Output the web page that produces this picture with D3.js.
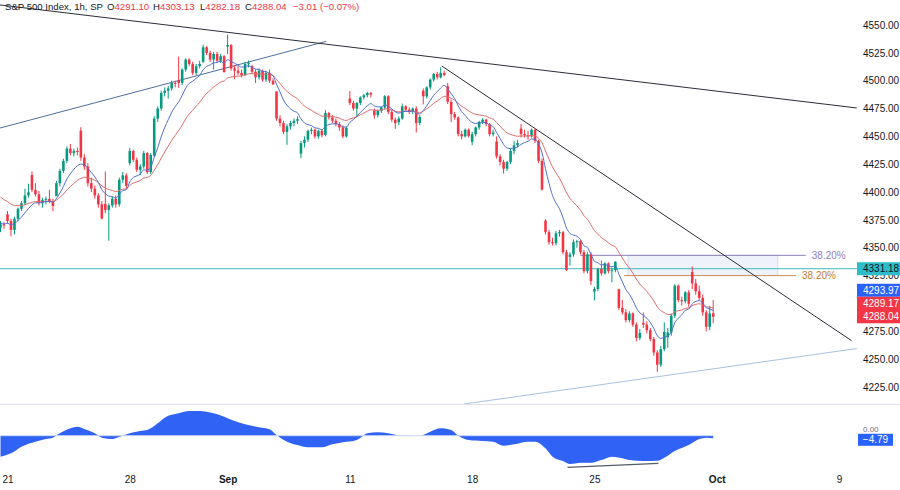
<!DOCTYPE html>
<html><head><meta charset="utf-8">
<script src="https://cdn.jsdelivr.net/npm/d3@7/dist/d3.min.js"></script>
<style>
body{margin:0;background:#ffffff;}
svg{display:block;font-family:"Liberation Sans",Arial,sans-serif;}
</style>
</head><body>
<svg id="chart" width="900" height="490"></svg>
<script>
// ---------------- DATA ----------------
const title = "S&P 500 Index, 1h, SP";
const ohlcHeader = [["O","4291.10"],["H","4303.13"],["L","4282.18"],["C","4288.04"]];
const changeText = "\u22123.01 (\u22120.07%)";

const firstIndex = -2; // first bar sits two bars before Aug 21 open
// [open, high, low, close] per 1h bar
const candles = [
[4368,4374,4364,4371],[4371,4373,4367,4370],
[4380,4383,4372,4374],[4374,4376,4360.3,4366],[4366,4378,4362,4376],[4376,4386,4374,4385],[4385,4392,4383,4390],[4390,4403,4388,4397],[4397,4407.5,4395,4399.8],
[4415.3,4418.6,4400,4402],[4402,4408,4396,4398],[4398,4401,4388,4390],[4390,4395,4386,4393],[4393,4396,4389,4394],[4394,4402,4390,4392],[4392,4394,4382.8,4387.5],
[4396.4,4410,4396.4,4408],[4408,4421,4405,4419],[4419,4430,4417,4428],[4428,4441,4426,4439],[4439,4443.2,4433,4435],[4435,4439,4432,4437],[4437,4440,4433,4436],
[4455.2,4458.3,4428,4431],[4431,4434,4420,4423],[4423,4426,4405,4408],[4408,4413,4400,4403],[4403,4406,4394,4397],[4397,4399,4386,4389],[4389,4392,4375.5,4376.3],
[4389.4,4418.5,4381,4384],[4384,4390,4356.3,4388],[4388,4396,4386,4394],[4394,4397,4386,4389],[4389,4413,4387,4411],[4411,4418,4408,4415],[4415,4417,4403,4405.7],
[4426,4439.6,4424,4437],[4437,4438,4427,4429],[4429,4431,4418,4420],[4420,4425,4415,4423],[4423,4437,4421,4435],[4435,4436,4416,4418],[4418,4435,4416,4433.3],
[4432.75,4468,4431.7,4466],[4466,4477,4463,4475],[4475,4491,4473,4489],[4489,4494,4486,4491],[4491,4495,4484,4493],[4493,4500.1,4491,4498],[4498,4500,4494,4497.6],
[4500.3,4521.65,4493.6,4498],[4498,4511,4496,4510],[4510,4520,4508,4519],[4519,4520,4513,4515],[4515,4517,4505,4507],[4507,4515,4505,4513],[4513,4518,4511,4514.9],
[4517,4532.3,4516,4530],[4530,4531,4523,4525],[4525,4527,4517,4519],[4519,4526,4510,4524],[4524,4526,4516,4518],[4518,4524,4516,4522],[4522,4523,4507.4,4507.7],
[4530.6,4541.25,4524,4532],[4532,4533,4509,4511],[4511,4514,4501.35,4509],[4509,4513,4505,4507],[4507,4510,4503,4505],[4505,4517,4504,4515],[4515,4518,4512,4515.8],
[4513,4514.3,4506,4508],[4508,4510,4498,4503],[4503,4511,4501,4509],[4509,4510,4499,4501],[4501,4509,4499,4507],[4507,4510,4498,4500],[4500,4502,4496,4496.8],
[4490.35,4490.35,4464,4466],[4466,4469,4459,4462],[4462,4464,4452,4454],[4454,4461,4442.4,4459],[4459,4464,4456,4462],[4462,4466,4459,4464],[4464,4468,4461,4465.5],
[4434.55,4446,4430.5,4444],[4444,4450,4440,4447],[4447,4456,4445,4455],[4455,4457.8,4452,4456],[4456,4457,4448,4450],[4450,4456,4448,4455],[4455,4456,4449,4451.1],
[4451.3,4473.5,4450,4471],[4471,4472,4465,4467],[4467,4469,4462,4464],[4464,4466,4459,4461],[4461,4463,4455,4458],[4458,4460,4448.4,4450],[4450,4459,4449,4457.5],
[4484,4490.8,4478,4480],[4480,4482,4473,4475],[4475,4481,4467.9,4480],[4480,4486,4478,4485],[4485,4488,4483,4487],[4487,4490,4485,4489],[4489,4490,4485,4487.5],
[4473.3,4475,4466,4469],[4469,4474,4467,4473],[4473,4477,4471,4476],[4476,4487.1,4474,4486],[4486,4487,4470,4472],[4472,4474,4463,4465],[4465,4467,4456.8,4461.9],
[4462.65,4468,4460,4466],[4466,4479.4,4465,4477],[4477,4478,4472,4474],[4474,4476,4470,4472],[4472,4476,4470,4475],[4475,4477,4453.5,4462],[4462,4469,4460,4467.4],
[4491,4493,4478.7,4486],[4486,4495,4484,4494],[4494,4502,4492,4501],[4501,4507,4499,4506],[4506,4508,4501,4503],[4503,4512,4502,4507],[4507,4509,4504,4505.1],
[4495,4498,4479,4481],[4481,4483,4463,4470],[4470,4472,4465,4467],[4467,4468,4450,4452],[4452,4455,4447.2,4450],[4450,4457,4449,4456],[4456,4457,4449,4450.3],
[4445.1,4454,4442.1,4452],[4452,4459,4450,4458],[4458,4464,4456,4463],[4463,4466.4,4461,4465],[4465,4466,4459,4461],[4461,4462,4450,4452],[4452,4456,4450,4453.5],
[4445.4,4449.9,4430,4432],[4432,4434,4424,4427],[4427,4429,4416.6,4421],[4421,4428,4419,4427],[4427,4439,4425,4437],[4437,4446,4434,4442],[4442,4447,4440,4444],
[4457,4461,4449,4452],[4452,4456,4449,4451],[4451,4455,4447,4450],[4450,4457,4449,4456],[4456,4457,4444,4446],[4446,4447,4426,4428],[4428,4430,4401.4,4402.2],
[4374.4,4375.7,4362,4364],[4364,4366,4353,4355],[4355,4359,4352,4354],[4354,4365,4352,4363],[4363,4366,4360,4364],[4364,4365,4344,4346],[4346,4348,4329.2,4330],
[4341.7,4346,4334,4344],[4344,4357.4,4342,4355],[4355,4357,4350,4356],[4356,4357,4344,4346],[4346,4348,4327,4329],[4329,4346,4327,4344],[4344,4346,4316.5,4320.1],
[4310.6,4315,4302.7,4313],[4313,4332,4311,4331],[4331,4338.5,4325,4327],[4327,4337,4326,4336],[4336,4337,4327,4329],[4329,4332,4319,4330],[4330,4338,4328,4337.4],
[4312.9,4313,4294,4296],[4296,4303,4290,4292],[4292,4295,4283,4285],[4285,4293,4283,4291],[4291,4292,4279,4281],[4281,4283,4266,4269],[4269,4277,4267,4273.5],
[4282.6,4292,4278,4281],[4281,4284,4273,4276],[4276,4278,4266,4268],[4268,4270,4253,4256],[4256,4258,4238.6,4245],[4245,4262,4243,4259],[4259,4283,4257,4274.5],
[4269.65,4278,4260.2,4274],[4274,4291,4271,4289],[4289,4317.3,4287,4316],[4316,4317,4301,4303],[4303,4306,4298,4302],[4302,4311,4300,4310],[4310,4312,4297,4299.7],
[4328.2,4333.15,4313,4318],[4318,4322,4308,4311],[4311,4316,4303,4305],[4305,4308,4289,4292],[4292,4294,4274.9,4279],[4279,4298,4276,4291],[4291.10,4303.13,4282.18,4288.04]
];

// moving averages (EMA lengths) and their starting values read at the left edge
const fastLen = 9, slowLen = 21;
const fastStart = 4372, slowStart = 4398;

// x-axis labels (bar index of the first bar of each labelled day)
const dateLabels = ["21","28","Sep","11","18","25","Oct","9"];
const dateIdx    = [0, 35, 63, 98, 133, 168, 203, 238];
const boldDates  = ["Sep","Oct"];

// price axis ticks
const priceTicks = [4225,4250,4275,4300,4325,4350,4375,4400,4425,4450,4475,4500,4525,4550];

// drawings (bar index, price)
const trendBlack1 = [[-2.15, 4568], [243.1, 4475.5]];
const trendBlue   = [[-2.15, 4457.5], [91.2, 4535.3]];
const trendBlack2 = [[124.3, 4513.2], [241.6, 4266.6]];
const trendLight  = [[130.6, 4209.7], [243.1, 4259.5]];
const hLevel = 4331.18;
const fibTop = {price: 4343.2, from: 164, to: 228.5, label: "38.20%"};
const fibBot = {price: 4325.0, from: 176.5, to: 225.7, label: "38.20%"};
const fibBox = {from: 177.6, to: 220.5};

// last-value labels
const fastLabel = "4293.97", slowLabel = "4289.17", closeLabel = "4288.04";

// oscillator (sampled from the lower pane)
const oscIdx = [-2,1,4,8,11,13,15,18,20,22,25,27,30,32,35,38,40,43,45,49,52,55,59,62,65,68,72,75,77,80,83,86,90,93,96,100,103,106,109,113,116,118,121,124,127,129,132,136,139,142,145,149,151,154,156,159,161,164,167,170,173,176,178,182,186,188,191,195,198,200,202];
const oscVal = [-38.6,-32.5,-20.2,-11,-6.1,-3.6,4.4,13.6,16.6,12.3,4.4,-3.6,-6.1,-2.4,4.4,8.7,10.5,22.8,33.2,41.2,45.5,45.5,41.2,35,27.1,20.9,15.4,11.7,1.3,-11,-17.1,-21.4,-21.4,-15.9,-12.2,-7.9,4.4,6.2,4.4,-0.6,0,0,7.4,13.6,10.5,0,-7.9,-9.8,-11,-18.4,-15.9,-11,-11,-23.3,-38.6,-46.6,-52.1,-49.7,-49.7,-44.8,-38.6,-41.7,-44.8,-46.6,-46,-40.5,-28.2,-17.1,-6.1,-3.6,-4.79];
const oscLast = "\u22124.79";
const oscDiv = [[160.3, -58.2], [186.3, -50.8]];

// ---------------- LAYOUT ----------------
const W = 900, H = 490;
const plotRight = 857;
const pricePane = {top: 0, bottom: 404};
const oscPane = {top: 405, bottom: 470};
const UP = "#089981", DN = "#f23645";

const svg = d3.select("#chart");
svg.append("rect").attr("width", W).attr("height", H).attr("fill", "#ffffff");

const x = d3.scaleLinear().domain([0, 203]).range([7.5, 716.7]);
const y = d3.scaleLinear().domain([4225, 4550]).range([387, 25]);
const oy = d3.scaleLinear().domain([0, -10]).range([435.7, 441.13]);

const defs = svg.append("defs");
defs.append("clipPath").attr("id", "clipP").append("rect")
  .attr("x", 0).attr("y", pricePane.top).attr("width", plotRight).attr("height", pricePane.bottom - pricePane.top);
defs.append("clipPath").attr("id", "clipO").append("rect")
  .attr("x", 0).attr("y", oscPane.top).attr("width", plotRight).attr("height", oscPane.bottom - oscPane.top);

// pane separator
svg.append("line").attr("x1", 0).attr("x2", W).attr("y1", 404.5).attr("y2", 404.5)
  .attr("stroke", "#e0e3eb").attr("stroke-width", 1);

const gp = svg.append("g").attr("clip-path", "url(#clipP)");

// fib box + levels
gp.append("rect")
  .attr("x", x(fibBox.from)).attr("width", x(fibBox.to) - x(fibBox.from))
  .attr("y", y(fibTop.price)).attr("height", y(fibBot.price) - y(fibTop.price))
  .attr("fill", "#eef3fb").attr("stroke", "#ccd6e6").attr("stroke-width", 0.8);

// horizontal level
gp.append("line").attr("x1", 0).attr("x2", plotRight)
  .attr("y1", y(hLevel)).attr("y2", y(hLevel))
  .attr("stroke", "#3fb9bd").attr("stroke-width", 1);

gp.append("line").attr("x1", x(fibTop.from)).attr("x2", x(fibTop.to))
  .attr("y1", y(fibTop.price)).attr("y2", y(fibTop.price))
  .attr("stroke", "#8c7fb5").attr("stroke-width", 1);
gp.append("line").attr("x1", x(fibBot.from)).attr("x2", x(fibBot.to))
  .attr("y1", y(fibBot.price)).attr("y2", y(fibBot.price))
  .attr("stroke", "#c98d5a").attr("stroke-width", 1);
gp.append("text").attr("x", x(fibTop.to) + 6).attr("y", y(fibTop.price)).attr("dy", "0.35em")
  .attr("font-size", 10).attr("fill", "#8f80bd").text(fibTop.label);
gp.append("text").attr("x", x(fibBot.to) + 6).attr("y", y(fibBot.price)).attr("dy", "0.35em")
  .attr("font-size", 10).attr("fill", "#c47a36").text(fibBot.label);

// trend lines
const tl = d3.line().x(d => x(d[0])).y(d => y(d[1]));
gp.append("path").attr("d", tl(trendLight)).attr("stroke", "#a9c0de").attr("stroke-width", 1).attr("fill", "none");
gp.append("path").attr("d", tl(trendBlue)).attr("stroke", "#4d6f9c").attr("stroke-width", 1).attr("fill", "none");
gp.append("path").attr("d", tl(trendBlack1)).attr("stroke", "#2a2e39").attr("stroke-width", 1).attr("fill", "none");
gp.append("path").attr("d", tl(trendBlack2)).attr("stroke", "#2a2e39").attr("stroke-width", 1).attr("fill", "none");

// candles
const bars = candles.map((c, k) => ({i: firstIndex + k, o: c[0], h: c[1], l: c[2], c: c[3]}));
const bw = 2.6;
const gc = gp.append("g");
gc.selectAll("line.w").data(bars).join("line")
  .attr("x1", d => x(d.i)).attr("x2", d => x(d.i))
  .attr("y1", d => y(d.h)).attr("y2", d => y(d.l))
  .attr("stroke", d => d.c >= d.o ? UP : DN).attr("stroke-width", 1);
gc.selectAll("rect.b").data(bars).join("rect")
  .attr("x", d => x(d.i) - bw / 2).attr("width", bw)
  .attr("y", d => y(Math.max(d.o, d.c)))
  .attr("height", d => Math.max(1, Math.abs(y(d.o) - y(d.c))))
  .attr("fill", d => d.c >= d.o ? UP : DN);

// moving averages
function ema(len, start) {
  const a = 2 / (len + 1); let v = start;
  return bars.map(d => { v = v + a * (d.c - v); return {i: d.i, v}; });
}
const fast = ema(fastLen, fastStart), slow = ema(slowLen, slowStart);
const ml = d3.line().x(d => x(d.i)).y(d => y(d.v)).curve(d3.curveMonotoneX);
gp.append("path").attr("d", ml(slow)).attr("fill", "none").attr("stroke", "#e06c6c").attr("stroke-width", 1);
gp.append("path").attr("d", ml(fast)).attr("fill", "none").attr("stroke", "#4f6fcf").attr("stroke-width", 1);

// price axis
const ax = svg.append("g").attr("transform", `translate(${plotRight},0)`)
  .call(d3.axisRight(y).tickValues(priceTicks).tickFormat(d3.format(".2f")).tickSize(0).tickPadding(6));
ax.select(".domain").remove();
ax.selectAll("text").attr("font-size", 10).attr("fill", "#131722").attr("font-family", "Liberation Sans, Arial, sans-serif");

// price labels on axis
function axisLabel(val, yc, bg, fg, w) {
  const g = svg.append("g");
  g.append("rect").attr("x", plotRight).attr("y", yc - 6.5).attr("width", w || (W - plotRight)).attr("height", 13).attr("fill", bg);
  g.append("text").attr("x", plotRight + 6).attr("y", yc).attr("dy", "0.35em")
    .attr("font-size", 10).attr("fill", fg).text(val);
}
axisLabel(d3.format(".2f")(hLevel), y(hLevel), "#2ebccb", "#131722");
const yCl = y(+closeLabel);
axisLabel(fastLabel, yCl - 26.5, "#2962ff", "#ffffff");
const rg = svg.append("g");
rg.append("rect").attr("x", plotRight).attr("y", yCl - 20).attr("width", W - plotRight).attr("height", 26.5).attr("fill", DN);
rg.append("text").attr("x", plotRight + 6).attr("y", yCl - 13.3).attr("dy", "0.35em").attr("font-size", 10).attr("fill", "#fff").text(slowLabel);
rg.append("text").attr("x", plotRight + 6).attr("y", yCl).attr("dy", "0.35em").attr("font-size", 10).attr("fill", "#fff").text(closeLabel);

// oscillator
const go = svg.append("g").attr("clip-path", "url(#clipO)");
const osc = oscIdx.map((d, k) => ({i: d, v: oscVal[k]}));
go.append("path")
  .attr("d", d3.area().x(d => x(d.i)).y0(oy(0)).y1(d => oy(d.v)).curve(d3.curveMonotoneX)(osc))
  .attr("fill", "#2f62f5");
go.append("line").attr("x1", x(oscIdx[0])).attr("x2", x(oscIdx[oscIdx.length - 1]))
  .attr("y1", oy(0)).attr("y2", oy(0)).attr("stroke", "#c9d8f7").attr("stroke-width", 1);
go.append("path").attr("d", d3.line().x(d => x(d[0])).y(d => oy(d[1]))(oscDiv))
  .attr("stroke", "#555b66").attr("stroke-width", 1.2).attr("fill", "none");

// zero label peeking above the last-value box
svg.append("text").attr("x", plotRight + 6).attr("y", oy(0) - 7).attr("dy", "0.35em")
  .attr("font-size", 8).attr("fill", "#6a6d78").text("0.00");
svg.append("rect").attr("x", plotRight + 1).attr("y", oy(-4.79) - 4.5).attr("width", 35).attr("height", 12).attr("fill", "#2962ff");
svg.append("text").attr("x", plotRight + 18.5).attr("y", oy(-4.79) + 1.5).attr("dy", "0.35em")
  .attr("text-anchor", "middle").attr("font-size", 10).attr("fill", "#fff").text(oscLast);

// time axis
const tx = svg.append("g").attr("transform", "translate(0,473)")
  .call(d3.axisBottom(x).tickValues(dateIdx).tickFormat((d, k) => dateLabels[k]).tickSize(0).tickPadding(3));
tx.select(".domain").remove();
tx.selectAll("text").attr("font-size", 10).attr("fill", "#131722")
  .attr("font-family", "Liberation Sans, Arial, sans-serif")
  .attr("font-weight", d => boldDates.includes(dateLabels[dateIdx.indexOf(d)]) ? "bold" : "normal");

// header
const hd = svg.append("text").attr("y", 10).attr("font-size", 9.6).attr("fill", "#131722");
hd.append("tspan").attr("x", 5).text(title);
const hx = [107, 153, 200, 245];
ohlcHeader.forEach((p, k) => {
  hd.append("tspan").attr("x", hx[k]).attr("fill", "#131722").text(p[0]);
  hd.append("tspan").attr("fill", DN).text(p[1]);
});
hd.append("tspan").attr("x", 293).attr("fill", DN).text(changeText);
</script>
</body></html>
